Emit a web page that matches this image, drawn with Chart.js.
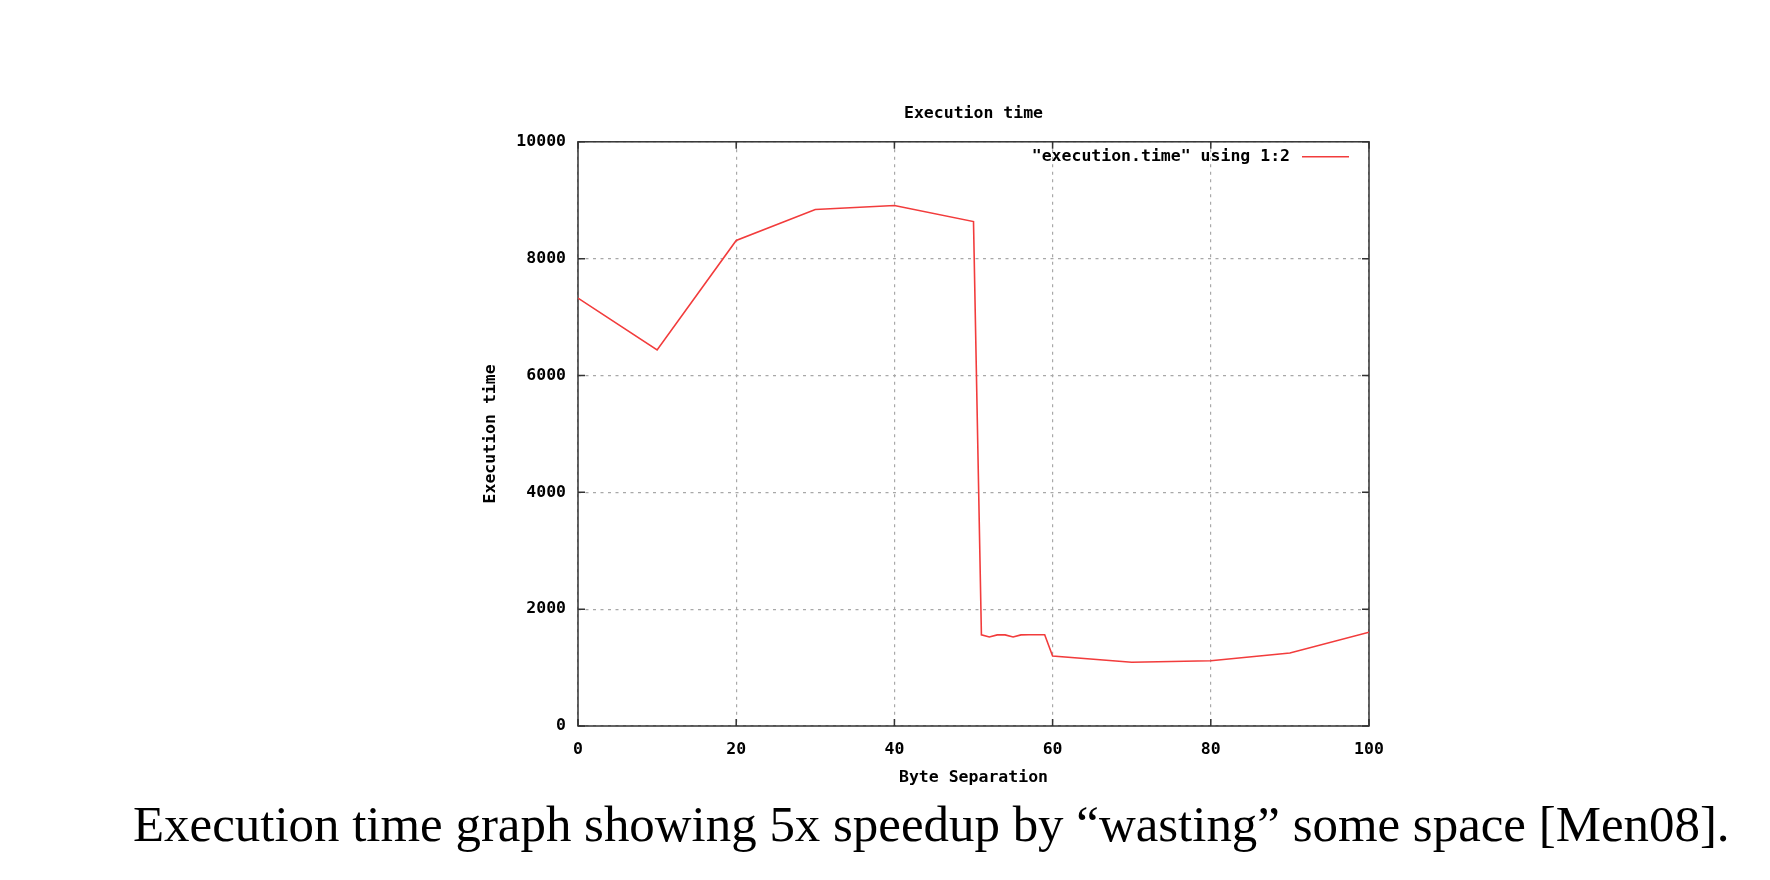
<!DOCTYPE html>
<html>
<head>
<meta charset="utf-8">
<script src="https://cdn.jsdelivr.net/npm/chart.js@4/dist/chart.umd.min.js"></script>
<style>
  html, body { margin: 0; padding: 0; background: #fff; }
  #wrap { position: relative; width: 1770px; height: 880px; overflow: hidden; }
  #chart { position: absolute; left: 0; top: 0; }
  #caption {
    position: absolute;
    left: 133px;
    top: 798px;
    font-family: "Liberation Serif", "DejaVu Serif", serif;
    font-size: 52px;
    line-height: 1;
    white-space: nowrap;
    color: #000;
  }
</style>
</head>
<body>
<div id="wrap">
  <canvas id="chart" width="1770" height="880"></canvas>
  <div id="caption">Execution time graph showing 5x speedup by “wasting” some space [Men08].</div>
</div>
<script>
// values
const byteSeparation = [0, 10, 20, 30, 40, 50, 51, 52, 53, 54, 55, 56, 57, 58, 59, 60, 70, 80, 90, 100];
const executionTime = [7324, 6438, 8310, 8840, 8910, 8635, 1560, 1525, 1560, 1560, 1525, 1560, 1563, 1563, 1563, 1199, 1090, 1118, 1250, 1604];
const xTicks = [0, 20, 40, 60, 80, 100];
const yTicks = [0, 2000, 4000, 6000, 8000, 10000];

const monoFont = "'DejaVu Sans Mono', 'Liberation Mono', monospace";
const font = { family: monoFont, size: 16.5, weight: "bold" };

const points = byteSeparation.map((x, i) => ({ x: x, y: executionTime[i] }));

// gnuplot-ish frame with inward tick marks
const framePlugin = {
  id: "frame",
  beforeDatasetsDraw(chart) {
    const { ctx, chartArea: a, scales } = chart;
    ctx.save();
    ctx.strokeStyle = "#333";
    ctx.lineWidth = 1.5;
    ctx.strokeRect(a.left, a.top, a.right - a.left, a.bottom - a.top);
    ctx.beginPath();
    xTicks.forEach((v) => {
      const px = scales.x.getPixelForValue(v);
      ctx.moveTo(px, a.bottom);
      ctx.lineTo(px, a.bottom - 7);
      ctx.moveTo(px, a.top);
      ctx.lineTo(px, a.top + 7);
    });
    yTicks.forEach((v) => {
      const py = scales.y.getPixelForValue(v);
      ctx.moveTo(a.left, py);
      ctx.lineTo(a.left + 7, py);
      ctx.moveTo(a.right, py);
      ctx.lineTo(a.right - 7, py);
    });
    ctx.stroke();
    ctx.restore();
  },
  afterDraw(chart) {
    const { ctx, chartArea: a } = chart;
    const ds = chart.data.datasets[0];
    const y = a.top + 15;
    ctx.save();
    ctx.font = "bold 16.5px " + monoFont;
    ctx.fillStyle = "#000";
    ctx.textAlign = "right";
    ctx.textBaseline = "middle";
    ctx.fillText(ds.label, a.right - 79, y);
    ctx.strokeStyle = ds.borderColor;
    ctx.lineWidth = 1.5;
    ctx.beginPath();
    ctx.moveTo(a.right - 67, y);
    ctx.lineTo(a.right - 20, y);
    ctx.stroke();
    ctx.restore();
  },
};

new Chart(document.getElementById("chart"), {
  type: "line",
  data: {
    datasets: [
      {
        label: "\"execution.time\" using 1:2",
        data: points,
        borderColor: "#f23c3c",
        borderWidth: 1.6,
        pointRadius: 0,
        tension: 0,
        fill: false,
      },
    ],
  },
  options: {
    responsive: false,
    animation: false,
    devicePixelRatio: 1,
    layout: {
      padding: { left: 0, top: 0, right: 401, bottom: 74 },
    },
    plugins: {
      legend: { display: false },
      tooltip: { enabled: false },
      title: {
        display: true,
        fullSize: false,
        text: "Execution time",
        color: "#000",
        font: font,
        padding: { top: 104, bottom: 18 },
      },
    },
    scales: {
      x: {
        type: "linear",
        min: 0,
        max: 100,
        afterFit: (scale) => {
          scale.height = 80;
        },
        afterBuildTicks: (scale) => {
          scale.ticks = xTicks.map((v) => ({ value: v }));
        },
        ticks: {
          color: "#000",
          font: font,
          padding: 14,
          maxRotation: 0,
          callback: (v) => String(v),
        },
        grid: {
          color: "#a8a8a8",
          lineWidth: 1.2,
          drawTicks: false,
        },
        border: { display: false, dash: [3, 4.5] },
        title: {
          display: true,
          text: "Byte Separation",
          color: "#000",
          font: font,
          padding: { top: 0, bottom: 18 },
        },
      },
      y: {
        type: "linear",
        min: 0,
        max: 10000,
        afterFit: (scale) => {
          scale.width = 578;
        },
        afterBuildTicks: (scale) => {
          scale.ticks = yTicks.map((v) => ({ value: v }));
        },
        ticks: {
          color: "#000",
          font: font,
          padding: 12,
          callback: (v) => String(v),
        },
        grid: {
          color: "#a8a8a8",
          lineWidth: 1.2,
          drawTicks: false,
        },
        border: { display: false, dash: [3, 4.5] },
        title: {
          display: true,
          text: "Execution time",
          color: "#000",
          font: font,
          padding: { top: 481, bottom: 0 },
        },
      },
    },
  },
  plugins: [framePlugin],
});

// fit the caption to the width it has in the picture
const cap = document.getElementById("caption");
const targetWidth = 1597;
const w = cap.getBoundingClientRect().width;
const fs = 52 * targetWidth / w;
cap.style.fontSize = fs + "px";
cap.style.top = (842 - 0.8375 * fs) + "px";
</script>
</body>
</html>
